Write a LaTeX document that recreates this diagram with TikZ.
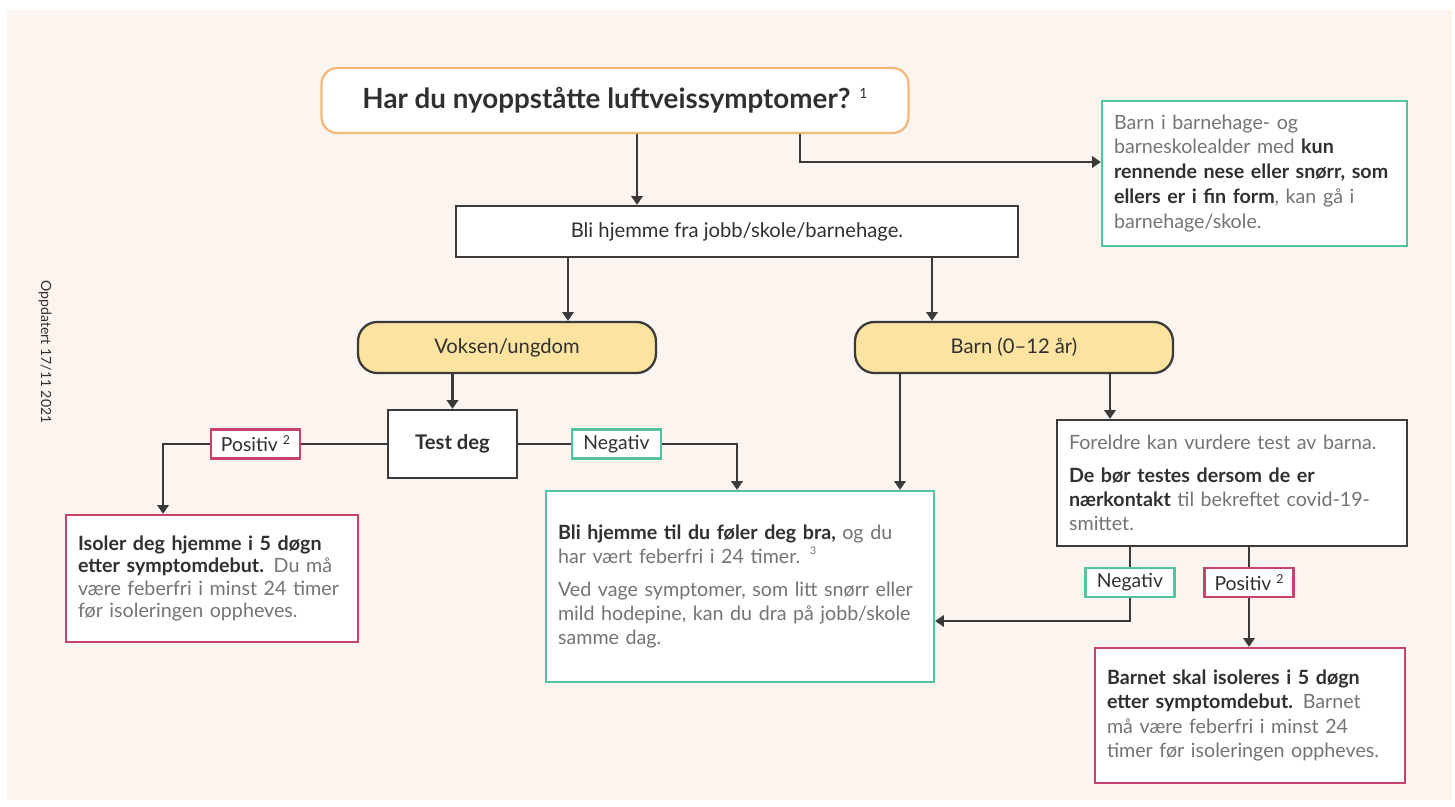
\documentclass[tikz,border=0pt]{standalone}
\usepackage{fontspec}
\setmainfont{Lato}
\usetikzlibrary{arrows.meta, positioning}

\definecolor{bgcream}{HTML}{FCF5EF}
\definecolor{hdorange}{HTML}{F4B878}
\definecolor{okgreen}{HTML}{52C4A0}
\definecolor{warnpink}{HTML}{C8426E}
\definecolor{grpyellow}{HTML}{FDE3A0}
\definecolor{linegray}{HTML}{3A3A3A}
\definecolor{txtgray}{HTML}{747474}
\definecolor{txtdark}{HTML}{303030}

\newcommand{\bftxt}[1]{\textbf{\color{txtdark}#1}}

\begin{document}
\begin{tikzpicture}[x=0.02cm, y=-0.02cm,
  question/.style={rectangle, rounded corners=9pt, minimum width=11.74cm, minimum height=1.3cm, text centered, draw=hdorange, line width=1.3pt, fill=white, text=txtdark, font=\fontsize{15.8}{18}\selectfont\bfseries},
  plain/.style={rectangle, minimum height=1.02cm, text centered, draw=linegray, line width=1.3pt, fill=white, text=txtdark, font=\fontsize{11.5}{13}\selectfont},
  group/.style={rectangle, rounded corners=11pt, minimum height=1.02cm, text centered, draw=linegray, line width=1.3pt, fill=grpyellow, text=txtdark, font=\fontsize{11.5}{13}\selectfont},
  info/.style={rectangle, align=left, inner xsep=0.24cm, draw=linegray, line width=1.3pt, fill=white, text=txtgray, font=\fontsize{11.2}{13.8}\selectfont},
  infogreen/.style={info, draw=okgreen},
  infopink/.style={info, draw=warnpink},
  tag/.style={rectangle, minimum width=1.78cm, minimum height=0.58cm, inner sep=1pt, text centered, line width=1.2pt, fill=white, text=txtdark, font=\fontsize{11}{12}\selectfont},
  arrow/.style={line width=1.2pt, draw=linegray, -{Triangle[length=5pt, width=6.5pt]}},
  link/.style={line width=1.2pt, draw=linegray}]

  \useasboundingbox (0,0) rectangle (1455,807);
  \fill[white] (0,0) rectangle (1455,807);
  \fill[bgcream] (7,10) rectangle (1452,800);

  % Nodes
  \node (question) [question] at (615,100.5) {Har du nyoppståtte luftveissymptomer? {\mdseries\fontsize{8}{8}\selectfont\raisebox{6pt}{1}}};
  \node (kunbox) [infogreen, minimum width=6.1cm, minimum height=2.9cm, text width=5.62cm, font=\fontsize{11.2}{14.2}\selectfont] at (1254.5,173.5) {Barn i barnehage- og\\ barneskolealder med \bftxt{kun}\\ \bftxt{rennende nese eller snørr, som}\\ \bftxt{ellers er i fin form}, kan gå i\\ barnehage/skole.};
  \node (stayhome) [plain, minimum width=11.24cm] at (737,231.5) {Bli hjemme fra jobb/skole/barnehage.};

  \node (adult) [group, minimum width=5.96cm] at (507,347.5) {Voksen/ungdom};
  \node (child) [group, minimum width=6.36cm] at (1014,347.5) {Barn (0–12 år)};

  \node (testdeg) [plain, minimum width=2.58cm, minimum height=1.36cm, font=\fontsize{11.5}{13}\selectfont\bfseries] at (452.5,444) {Test deg};
  \node (posA) [tag, draw=warnpink] at (255.5,444) {Positiv {\fontsize{7}{7}\selectfont\raisebox{4pt}{2}}};
  \node (negA) [tag, draw=okgreen] at (616.5,444) {Negativ};

  \node (isoler) [infopink, minimum width=5.84cm, minimum height=2.54cm, text width=5.36cm, font=\fontsize{11.2}{12.8}\selectfont] at (212,578.5) {\bftxt{Isoler deg hjemme i 5 døgn}\\ \bftxt{etter symptomdebut.} Du må\\ være feberfri i minst 24 timer\\ før isoleringen oppheves.};
  \node (feelgood) [infogreen, minimum width=7.76cm, minimum height=3.82cm, text width=7.28cm] at (740,586.5) {\bftxt{Bli hjemme til du føler deg bra,} og du\\ har vært feberfri i 24 timer. {\fontsize{6}{6}\selectfont\raisebox{5pt}{3}}\\[5pt] Ved vage symptomer, som litt snørr eller\\ mild hodepine, kan du dra på jobb/skole\\ samme dag.};

  \node (parents) [info, minimum width=7cm, minimum height=2.52cm, text width=6.52cm] at (1232,483) {Foreldre kan vurdere test av barna.\\[5pt] \bftxt{De bør testes dersom de er}\\ \bftxt{nærkontakt} til bekreftet covid-19-\\ smittet.};
  \node (negB) [tag, draw=okgreen] at (1130,582.5) {Negativ};
  \node (posB) [tag, draw=warnpink] at (1249,582.5) {Positiv {\fontsize{7}{7}\selectfont\raisebox{4pt}{2}}};
  \node (childiso) [infopink, minimum width=6.2cm, minimum height=2.7cm, text width=5.72cm] at (1250,715.5) {\bftxt{Barnet skal isoleres i 5 døgn}\\ \bftxt{etter symptomdebut.} Barnet\\ må være feberfri i minst 24\\ timer før isoleringen oppheves.};

  \node (stamp) [rotate=-90, text=txtdark, font=\fontsize{8}{9}\selectfont] at (45,352) {Oppdatert 17/11 2021};

  % Columns and rows for the connectors
  \coordinate (colA) at (637,0);
  \coordinate (colB) at (800,0);
  \coordinate (colC) at (568,0);
  \coordinate (colD) at (932,0);
  \coordinate (colE) at (163,0);
  \coordinate (colF) at (737,0);
  \coordinate (colG) at (900,0);
  \coordinate (colH) at (1110,0);
  \coordinate (rowA) at (0,162);
  \coordinate (rowB) at (0,621);

  % Arrows
  \draw [arrow] (question.south -| colA) -- (stayhome.north -| colA);
  \draw [arrow] (question.south -| colB) |- (kunbox.west |- rowA);

  \draw [arrow] (stayhome.south -| colC) -- (adult.north -| colC);
  \draw [arrow] (stayhome.south -| colD) -- (child.north -| colD);

  \draw [arrow] (adult.south -| testdeg.north) -- (testdeg.north);
  \draw [link] (testdeg.west) -- (posA.east);
  \draw [arrow] (posA.west) -| (isoler.north -| colE);
  \draw [link] (testdeg.east) -- (negA.west);
  \draw [arrow] (negA.east) -| (feelgood.north -| colF);

  \draw [arrow] (child.south -| colG) -- (feelgood.north -| colG);
  \draw [arrow] (child.south -| colH) -- (parents.north -| colH);

  \draw [link] (parents.south -| negB) -- (negB.north);
  \draw [link] (parents.south -| posB) -- (posB.north);
  \draw [arrow] (negB.south) |- (feelgood.east |- rowB);
  \draw [arrow] (posB.south) -- (childiso.north -| posB);

\end{tikzpicture}
\end{document}
